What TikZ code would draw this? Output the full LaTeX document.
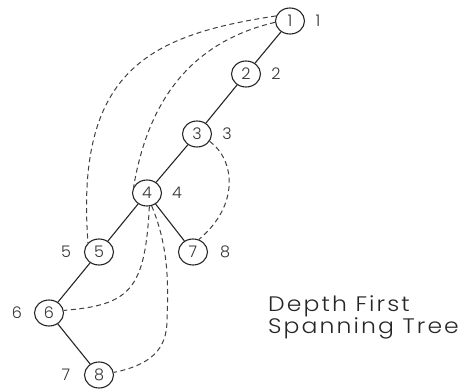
\documentclass[tikz,border=0pt]{standalone}
\usepackage{fontspec}
\setmainfont{Poppins}[UprightFont=* Light]
\newfontfamily\capfont{Poppins}[UprightFont=* Light,LetterSpace=10,FakeStretch=1.12]
\usetikzlibrary{shapes.geometric}
\begin{document}
\begin{tikzpicture}[x=1pt,y=-1pt,
  vtx/.style={draw=black!85,line width=1.1pt,ellipse,inner sep=0pt,minimum width=29pt,minimum height=26pt,font=\fontsize{16}{16}\selectfont,text=black!80},
  num/.style={font=\fontsize{16}{16}\selectfont,text=black!80},
  tree/.style={draw=black!85,line width=1.1pt},
  back/.style={draw=black!75,line width=1pt,dash pattern=on 5pt off 3.5pt}]
\useasboundingbox (0,0) rectangle (464,389);
\node[vtx] (n1) at (290,21) {1};
\node[vtx] (n2) at (246,74) {2};
\node[vtx] (n3) at (197,134) {3};
\node[vtx] (n4) at (147,193) {4};
\node[vtx] (n5) at (99,252) {5};
\node[vtx] (n7) at (193,252) {7};
\node[vtx] (n6) at (49,313) {6};
\node[vtx] (n8) at (99,375) {8};
\node[num] (l1) at (318,21) {1};
\node[num] (l2) at (276,74) {2};
\node[num] (l3) at (227,134) {3};
\node[num] (l4) at (177,193) {4};
\node[num] (l5) at (66,252) {5};
\node[num] (l7) at (225,252) {8};
\node[num] (l6) at (17,313) {6};
\node[num] (l8) at (66,375) {7};
\draw[tree] (n1) -- (n2);
\draw[tree] (n2) -- (n3);
\draw[tree] (n3) -- (n4);
\draw[tree] (n4) -- (n5);
\draw[tree] (n4) -- (n7);
\draw[tree] (n5) -- (n6);
\draw[tree] (n6) -- (n8);
\draw[back] (n1.160) .. controls (150,35) and (75,70) .. (n5.140);
\draw[back] (n1.185) .. controls (200,40) and (150,90) .. (n4.155);
\draw[back] (n3.-30) .. controls (235,160) and (240,205) .. (n7.65);
\draw[back] (n4.-80) .. controls (145,290) and (130,305) .. (n6.10);
\draw[back] (n4.-70) .. controls (170,250) and (168,290) .. (167,320) .. controls (167,350) and (150,365) .. (n8.10);
\node[anchor=north west,align=left,inner sep=0pt,font=\capfont\fontsize{21}{22}\selectfont,text=black!85] (cap) at (268,296) {Depth First\\Spanning Tree};
\end{tikzpicture}
\end{document}
